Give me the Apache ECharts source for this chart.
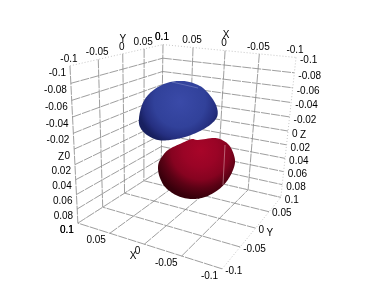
<!DOCTYPE html>
<html><head><meta charset="utf-8">
<style>html,body{margin:0;padding:0;background:#fff}#c{width:374px;height:281px;filter:blur(0.35px)}</style>
<script src="https://cdn.jsdelivr.net/npm/echarts@6/dist/echarts.min.js"></script>
</head><body><div id="c"></div>
<script>
// Tick values and labels
const xTicks = [0.1, 0.05, 0, -0.05, -0.1];
const yTicks = [-0.1, -0.05, 0, 0.05, 0.1];
const zTicks = [-0.1, -0.08, -0.06, -0.04, -0.02, 0, 0.02, 0.04, 0.06, 0.08, 0.1];
// Calibration of the box corners: [x, y, z, screenX, screenY]
const boxCorners = [
  [0.1, -0.1, -0.1, 70, 66], [0.1, 0.1, -0.1, 163, 44], [-0.1, 0.1, -0.1, 296, 58],
  [0.1, -0.1, 0.1, 78, 222], [0.1, 0.1, 0.1, 161, 171], [-0.1, 0.1, 0.1, 281, 196], [-0.1, -0.1, 0.1, 222, 270]
];
// Lobe silhouettes
const blueLobe = [[139,118],[142,105],[148,95],[158,87],[170,82],[183,81],[193,83],[203,88],[212,98],[217,108],[217,117],[210,125],[198,132],[185,137],[170,140],[158,140],[147,135],[140,127]];
const redLobe = [[158,168],[160,160],[168,150],[182,143],[192,139],[198,140],[214,138],[224,141],[231,148],[235,160],[233,170],[227,181],[218,190],[205,197],[192,199],[178,196],[166,188],[160,178]];
// Thin light streaks where the grid pokes through the surfaces
const redStreak = [[225,145,223,185]];
const blueStreak = [[172,82,198,88]];

function solveCamera(pts) {
  const A = [], b = [];
  pts.forEach(p => {
    const X = p[0]*10, Y = p[1]*10, Z = p[2]*10, u = p[3], v = p[4];
    A.push([X,Y,Z,1,0,0,0,0,-u*X,-u*Y,-u*Z]); b.push(u);
    A.push([0,0,0,0,X,Y,Z,1,-v*X,-v*Y,-v*Z]); b.push(v);
  });
  const n = 11, M = [];
  for (let i=0;i<n;i++){ M.push(new Array(n+1).fill(0));
    for (let j=0;j<n;j++) for (let k=0;k<A.length;k++) M[i][j]+=A[k][i]*A[k][j];
    for (let k=0;k<A.length;k++) M[i][n]+=A[k][i]*b[k];
  }
  for (let c=0;c<n;c++){ let m=c; for(let r=c+1;r<n;r++) if(Math.abs(M[r][c])>Math.abs(M[m][c])) m=r;
    [M[c],M[m]]=[M[m],M[c]];
    for(let r=0;r<n;r++) if(r!==c){ const f=M[r][c]/M[c][c]; for(let j=c;j<=n;j++) M[r][j]-=f*M[c][j]; } }
  return M.map((r,i)=>r[n]/r[i]);
}
const P = solveCamera(boxCorners);
function proj(x,y,z){ const X=x*10,Y=y*10,Z=z*10, w=P[8]*X+P[9]*Y+P[10]*Z+1;
  return [(P[0]*X+P[1]*Y+P[2]*Z+P[3])/w,(P[4]*X+P[5]*Y+P[6]*Z+P[7])/w]; }

const lo=-0.1, hi=0.1;
const gridSeg=[], dotSeg=[];
function seg(arr,a,b){ const p=proj(...a), q=proj(...b); arr.push([p[0],p[1],q[0],q[1]]); }
zTicks.forEach(z=>{ const t=(z===lo)?dotSeg:gridSeg;
  seg(t,[hi,lo,z],[hi,hi,z]); seg(t,[hi,hi,z],[lo,hi,z]); });
yTicks.forEach(y=>{ if(y!==hi) seg(gridSeg,[hi,y,lo],[hi,y,hi]);
  seg(y===hi?dotSeg:gridSeg,[lo,y,hi],[hi,y,hi]); });
xTicks.forEach(x=>{ seg(x===lo?dotSeg:gridSeg,[x,hi,lo],[x,hi,hi]);
  seg((x===hi||x===lo)?dotSeg:gridSeg,[x,lo,hi],[x,hi,hi]); });

const labels=[];
function lab(t,pt,dx,dy,al){ labels.push([pt[0]+dx,pt[1]+dy,t,al]); }
yTicks.forEach(y=>{ lab(String(y),proj(hi,y,lo),-1,-7,'center'); });
xTicks.forEach(x=>{ lab(String(x),proj(x,hi,lo),-1,-7,'center'); });
zTicks.forEach(z=>{ lab(String(z),proj(hi,lo,z),-4,7,'right'); lab(String(z),proj(lo,hi,z),4,3,'left'); });
yTicks.forEach(y=>{ if(y!==hi) lab(String(y),proj(lo,y,hi),3,2,'left'); });
xTicks.forEach(x=>{ lab(String(x),proj(x,lo,hi),-4,7,'right'); });
// axis names
let p0=proj(hi,0,lo); lab('Y',p0,0,-15,'center');
p0=proj(0,hi,lo); lab('X',p0,1,-15,'center');
p0=proj(hi,lo,0); lab('Z',p0,-10,8,'right');
p0=proj(lo,hi,0); lab('Z',p0,12,4,'left');
p0=proj(lo,0,hi); lab('Y',p0,11,5,'left');
p0=proj(0,lo,hi); lab('X',p0,-8,12,'right');

// Closed Catmull-Rom smoothing of a silhouette
function smoothOutline(pts){ const out=[], n=pts.length;
  for(let i=0;i<n;i++){ const a=pts[(i+n-1)%n],b=pts[i],c=pts[(i+1)%n],d=pts[(i+2)%n];
    for(let s=0;s<8;s++){ const t=s/8,t2=t*t,t3=t2*t;
      out.push([0,1].map(k=>0.5*(2*b[k]+(c[k]-a[k])*t+(2*a[k]-5*b[k]+4*c[k]-d[k])*t2+(3*b[k]-a[k]-3*c[k]+d[k])*t3))); } }
  return out; }

function segSeries(data,color,width,dash,op){ return {type:'custom',coordinateSystem:'cartesian2d',silent:true,data,
  renderItem:(ps,api)=>{ const a=api.coord([api.value(0),api.value(1)]), b=api.coord([api.value(2),api.value(3)]);
    return {type:'line',shape:{x1:a[0],y1:a[1],x2:b[0],y2:b[1]},style:{stroke:color,lineWidth:width,lineDash:dash,fill:null,opacity:op==null?1:op}}; },
  encode:{x:[0,2],y:[1,3]}}; }
function lobeSeries(points,stops,cx,cy,r){ const dense=smoothOutline(points);
  return {type:'custom',coordinateSystem:'cartesian2d',silent:true,data:points,
  renderItem:(ps,api)=>{ if(ps.dataIndex!==0) return null;
    return {type:'polygon',shape:{points:dense.map(p=>api.coord(p))},
      style:{fill:new echarts.graphic.RadialGradient(cx,cy,r,stops)}}; },
  encode:{x:0,y:1}}; }

const chart=echarts.init(document.getElementById('c'),null,{renderer:'canvas'});
chart.setOption({animation:false,backgroundColor:'#fff',
  grid:{left:0,right:0,top:0,bottom:0},
  xAxis:{type:'value',min:0,max:374,show:false},
  yAxis:{type:'value',min:0,max:281,inverse:true,show:false},
  series:[
    segSeries(gridSeg,'#858585',0.8,[9,1]),
    segSeries(dotSeg,'#b8b8b8',0.8,[1,2]),
    lobeSeries(redLobe,[{offset:0,color:'#a80529'},{offset:0.28,color:'#9a0426'},{offset:0.48,color:'#860320'},{offset:0.62,color:'#5c0215'},{offset:0.78,color:'#38000b'},{offset:1,color:'#2c0009'}],0.55,0.2,1),
    segSeries(redStreak,'#e9c0c6',0.7,null,0.7),
    lobeSeries(blueLobe,[{offset:0,color:'#3a4aa8'},{offset:0.6,color:'#31419a'},{offset:0.85,color:'#252f80'},{offset:1,color:'#182060'}],0.52,0.35,0.72),
    segSeries(blueStreak,'#aab2dc',0.6,null,0.6),
    {type:'custom',coordinateSystem:'cartesian2d',silent:true,data:labels,
     renderItem:(ps,api)=>{ const it=labels[ps.dataIndex], c=api.coord([it[0],it[1]]);
       return {type:'text',x:c[0],y:c[1],style:{text:it[2],fill:'#000',font:'10px "Liberation Sans"',textAlign:it[3],textVerticalAlign:'middle'}}; },
     encode:{x:0,y:1}}
  ]});
</script></body></html>
